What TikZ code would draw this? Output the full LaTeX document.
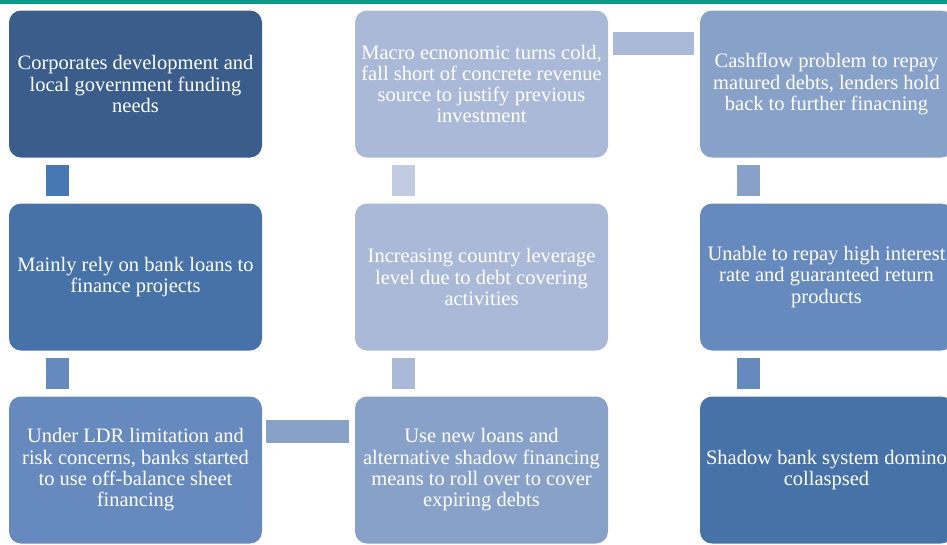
\documentclass[tikz,border=0pt]{standalone}
\usepackage{fontspec}
\setmainfont{Liberation Serif}
\usetikzlibrary{positioning}

\definecolor{topbar}{HTML}{0A9A85}
\definecolor{blueA}{HTML}{3A5D8B}
\definecolor{blueB}{HTML}{4772A8}
\definecolor{blueC}{HTML}{6689BE}
\definecolor{blueD}{HTML}{88A1C8}
\definecolor{blueE}{HTML}{AAB9D7}
\definecolor{linkA}{HTML}{4878B4}
\definecolor{linkB}{HTML}{C1CCE1}

\begin{document}
\begin{tikzpicture}[x=1pt,y=1pt,
    stage/.style={rounded corners=12pt, minimum width=253pt, minimum height=147pt,
      align=center, inner sep=0pt, text=white,
      font=\fontsize{20.5}{21.3}\selectfont},
    link/.style={line width=23pt, shorten <=7pt, shorten >=7pt}]
  \useasboundingbox (0,0) rectangle (947,-544);
  \fill [topbar] (0,0) rectangle (947,-4);
  % first column
  \node [stage, fill=blueA] (needs) at (135.5,-84) {Corporates development and\\local government funding\\needs};
  \node [stage, fill=blueB] (loans) at (135.5,-277) {Mainly rely on bank loans to\\finance projects};
  \node [stage, fill=blueC] (offbs) at (135.5,-470) {Under LDR limitation and\\risk concerns, banks started\\to use off-balance sheet\\financing};
  % second column
  \node [stage, fill=blueD] (rollover) at (481.5,-470) {Use new loans and\\alternative shadow financing\\means to roll over to cover\\expiring debts};
  \node [stage, fill=blueE] (leverage) at (481.5,-277) {Increasing country leverage\\level due to debt covering\\activities};
  \node [stage, fill=blueE] (macro) at (481.5,-84) {Macro ecnonomic turns cold,\\fall short of concrete revenue\\source to justify previous\\investment};
  % third column
  \node [stage, fill=blueD] (cashflow) at (826.5,-84) {Cashflow problem to repay\\matured debts, lenders hold\\back to further finacning};
  \node [stage, fill=blueC] (unable) at (826.5,-277) {Unable to repay high interest\\rate and guaranteed return\\products};
  \node [stage, fill=blueB] (domino) at (826.5,-470) {Shadow bank system domino\\collaspsed};
  % connectors
  \draw [link, linkA] ([xshift=48.5pt]needs.south west) -- ([xshift=48.5pt]loans.north west);
  \draw [link, blueC] ([xshift=48.5pt]loans.south west) -- ([xshift=48.5pt]offbs.north west);
  \draw [link, blueD, shorten <=4pt, shorten >=6pt] ([yshift=-35pt]offbs.north east) -- ([yshift=-35pt]rollover.north west);
  \draw [link, blueE] ([xshift=48.5pt]rollover.north west) -- ([xshift=48.5pt]leverage.south west);
  \draw [link, linkB] ([xshift=48.5pt]leverage.north west) -- ([xshift=48.5pt]macro.south west);
  \draw [link, blueE, shorten <=5pt, shorten >=6pt] ([yshift=-33pt]macro.north east) -- ([yshift=-33pt]cashflow.north west);
  \draw [link, blueD] ([xshift=48.5pt]cashflow.south west) -- ([xshift=48.5pt]unable.north west);
  \draw [link, blueC] ([xshift=48.5pt]unable.south west) -- ([xshift=48.5pt]domino.north west);
\end{tikzpicture}
\end{document}
